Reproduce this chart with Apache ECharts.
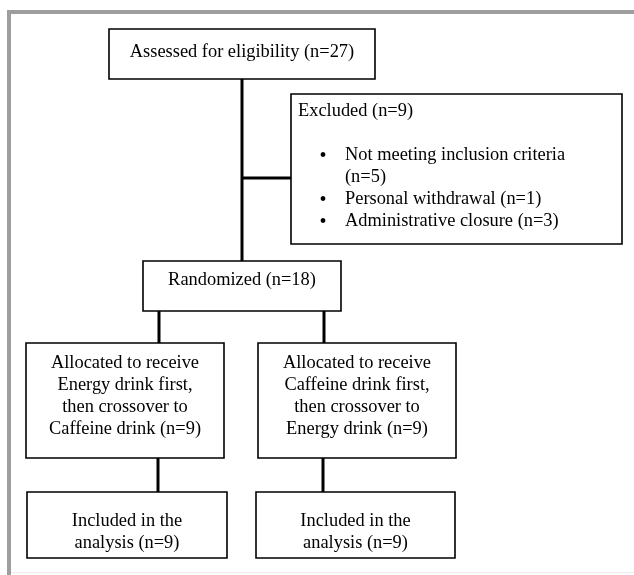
<!DOCTYPE html>
<html>
<head>
<meta charset="utf-8">
<script src="https://cdn.jsdelivr.net/npm/echarts@6/dist/echarts.min.js"></script>
<style>
html,body{margin:0;padding:0;background:#ffffff;}
#chart{width:634px;height:575px;}
</style>
</head>
<body>
<div id="chart"></div>
<script>
// ---- Data ----
const stageNames = [
  'Assessed for eligibility',
  'Excluded',
  'Randomized',
  'Allocated to receive\nEnergy drink first,\nthen crossover to\nCaffeine drink',
  'Allocated to receive\nCaffeine drink first,\nthen crossover to\nEnergy drink',
  'Included in the\nanalysis',
  'Included in the\nanalysis'
];
const stageCounts = [27, 9, 18, 9, 9, 9, 9];
const exclusionReasons = ['Not meeting inclusion criteria\n', 'Personal withdrawal', 'Administrative closure'];
const exclusionCounts = [5, 1, 3];

// ---- Layout (diagram coordinates) ----
const boxLayout = [
  [109, 29, 375, 79, 52, 'center'],
  [291, 94, 622, 244, 111, 'left'],
  [143, 261, 341, 311, 280, 'center'],
  [26, 343, 224, 458, 363, 'center'],
  [258, 343, 456, 458, 363, 'center'],
  [27, 492, 227, 558, 521, 'center'],
  [256, 492, 455, 558, 521, 'center']
];
const connectors = [
  [[242, 79], [242, 261]],
  [[242, 178], [291, 178]],
  [[159, 311], [159, 343]],
  [[324, 311], [324, 343]],
  [[158, 458], [158, 492]],
  [[323, 458], [323, 492]]
];
const LH = 22;
const FONT = '18.4px "Liberation Serif", "Times New Roman", serif';
const BULLET_FONT = '20px "Liberation Serif", "Times New Roman", serif';

function labelLines(name, n) {
  return (name + ' (n=' + n + ')').split('\n').map(s => s.trim());
}

const chart = echarts.init(document.getElementById('chart'), null, {renderer: 'canvas'});

const option = {
  animation: false,
  backgroundColor: '#ffffff',
  grid: {left: 0, right: 0, top: 0, bottom: 0},
  xAxis: {type: 'value', min: 0, max: 634, show: false},
  yAxis: {type: 'value', min: 0, max: 575, inverse: true, show: false},
  graphic: [
    {type: 'rect', shape: {x: 7, y: 10, width: 627, height: 4}, style: {fill: '#9e9e9e'}, z: 0},
    {type: 'rect', shape: {x: 7, y: 10, width: 4, height: 565}, style: {fill: '#9e9e9e'}, z: 0},
    {type: 'rect', shape: {x: 11, y: 572, width: 623, height: 1}, style: {fill: '#ececec'}, z: 0}
  ],
  series: [
    {
      type: 'custom',
      coordinateSystem: 'cartesian2d',
      clip: false,
      data: connectors.map((c, i) => [c[0][0], c[0][1], c[1][0], c[1][1], i]),
      renderItem: function (params, api) {
        const p0 = api.coord([api.value(0), api.value(1)]);
        const p1 = api.coord([api.value(2), api.value(3)]);
        return {
          type: 'line',
          shape: {x1: p0[0], y1: p0[1], x2: p1[0], y2: p1[1]},
          style: {stroke: '#000', lineWidth: 3}
        };
      },
      z: 2
    },
    {
      type: 'custom',
      coordinateSystem: 'cartesian2d',
      clip: false,
      data: boxLayout.map((b, i) => [b[0], b[1], b[2], b[3], b[4], i]),
      renderItem: function (params, api) {
        const i = api.value(5);
        const a = api.coord([api.value(0), api.value(1)]);
        const b = api.coord([api.value(2), api.value(3)]);
        const ty = api.coord([0, api.value(4)])[1];
        const children = [{
          type: 'rect',
          shape: {x: a[0], y: a[1], width: b[0] - a[0], height: b[1] - a[1]},
          style: {fill: '#fff', stroke: '#000', lineWidth: 1.6}
        }];
        if (boxLayout[i][5] === 'center') {
          const cx = (a[0] + b[0]) / 2;
          labelLines(stageNames[i], stageCounts[i]).forEach((t, k) => {
            children.push({type: 'text', style: {x: cx, y: ty + k * LH, text: t, font: FONT, fill: '#000', align: 'center', verticalAlign: 'middle'}});
          });
        } else {
          const lx = a[0] + 7;
          children.push({type: 'text', style: {x: lx, y: ty, text: labelLines(stageNames[i], stageCounts[i])[0], font: FONT, fill: '#000', align: 'left', verticalAlign: 'middle'}});
          let row = 2;
          exclusionReasons.forEach((r, j) => {
            const lines = labelLines(r, exclusionCounts[j]).filter(s => s.length);
            children.push({type: 'text', style: {x: lx + 25, y: ty + row * LH + 2, text: '\u2022', font: BULLET_FONT, fill: '#000', align: 'center', verticalAlign: 'middle'}});
            lines.forEach(t => {
              children.push({type: 'text', style: {x: lx + 47, y: ty + row * LH, text: t, font: FONT, fill: '#000', align: 'left', verticalAlign: 'middle'}});
              row++;
            });
          });
        }
        return {type: 'group', children: children};
      },
      z: 3
    }
  ]
};
chart.setOption(option);
</script>
</body>
</html>
